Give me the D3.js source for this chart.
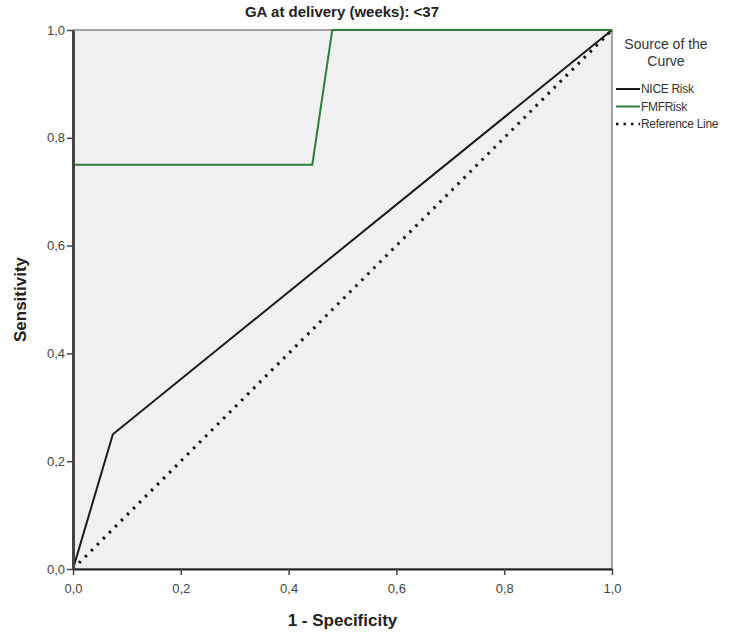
<!DOCTYPE html>
<html>
<head>
<meta charset="utf-8">
<script src="https://cdn.jsdelivr.net/npm/d3@7"></script>
<style>
  body { margin: 0; background: #fff; }
  svg { font-family: Arial, "Liberation Sans", sans-serif; }
</style>
</head>
<body>
<script>
// ROC curve data (1 - specificity, sensitivity)
const niceX = [0, 0.074, 1];
const niceY = [0, 0.25, 1];
const fmfX = [0, 0, 0.444, 0.481, 1];
const fmfY = [0, 0.75, 0.75, 1, 1];
const refX = [0, 1];
const refY = [0, 1];
const tickValues = [0, 0.2, 0.4, 0.6, 0.8, 1.0];
const legendLabels = ["NICE Risk", "FMFRisk", "Reference Line"];

const width = 750, height = 640;
const margin = { top: 30, right: 138, bottom: 71, left: 73 };

const svg = d3.select("body").append("svg")
    .attr("width", width)
    .attr("height", height);

const x = d3.scaleLinear().domain([0, 1]).range([margin.left, width - margin.right]);
const y = d3.scaleLinear().domain([0, 1]).range([height - margin.bottom, margin.top]);

// 背景
svg.append("rect")
    .attr("x", x(0)).attr("y", y(1))
    .attr("width", x(1) - x(0)).attr("height", y(0) - y(1))
    .attr("fill", "#f0f0f0")
    .attr("stroke", "#888").attr("stroke-width", 1.5);

const fmt = d => d3.format(".1f")(d).replace(".", ",");

const line = d3.line().x(d => x(d[0])).y(d => y(d[1]));

// reference line (dotted)
svg.append("path")
    .datum(d3.zip(refX, refY))
    .attr("d", line)
    .attr("fill", "none")
    .attr("stroke", "#111")
    .attr("stroke-width", 3)
    .attr("stroke-dasharray", "2.5,6");

// NICE
svg.append("path")
    .datum(d3.zip(niceX, niceY))
    .attr("d", line)
    .attr("fill", "none")
    .attr("stroke", "#1a1a1a")
    .attr("stroke-width", 2);

// FMF
svg.append("path")
    .datum(d3.zip(fmfX, fmfY))
    .attr("d", line)
    .attr("fill", "none")
    .attr("stroke", "#2e7d3a")
    .attr("stroke-width", 2);

// 軸 (線の上に描く)
svg.append("g")
    .attr("transform", `translate(0,${y(0)})`)
    .call(d3.axisBottom(x).tickValues(tickValues).tickFormat(fmt).tickSizeInner(6).tickSizeOuter(0).tickPadding(9))
    .call(g => g.select(".domain").attr("stroke", "#222").attr("stroke-width", 2))
    .call(g => g.selectAll(".tick line").attr("stroke", "#444").attr("stroke-width", 1.5))
    .call(g => g.selectAll(".tick text").attr("font-size", 13).attr("fill", "#444").attr("font-family", "Arial, sans-serif"));

svg.append("g")
    .attr("transform", `translate(${x(0)},0)`)
    .call(d3.axisLeft(y).tickValues(tickValues).tickFormat(fmt).tickSizeInner(6).tickSizeOuter(0).tickPadding(2))
    .call(g => g.select(".domain").attr("stroke", "#444").attr("stroke-width", 3))
    .call(g => g.selectAll(".tick line").attr("stroke", "#444").attr("stroke-width", 1.5))
    .call(g => g.selectAll(".tick text").attr("font-size", 13).attr("fill", "#444").attr("font-family", "Arial, sans-serif"));

// タイトル
svg.append("text")
    .attr("x", 342).attr("y", 17)
    .attr("text-anchor", "middle")
    .attr("font-size", 15).attr("font-weight", "bold").attr("fill", "#222")
    .text("GA at delivery (weeks): <37");

svg.append("text")
    .attr("x", x(0.5)).attr("y", 626)
    .attr("text-anchor", "middle")
    .attr("font-size", 17).attr("font-weight", "bold").attr("fill", "#222")
    .text("1 - Specificity");

svg.append("text")
    .attr("transform", `translate(26,${y(0.5)}) rotate(-90)`)
    .attr("text-anchor", "middle")
    .attr("font-size", 17).attr("font-weight", "bold").attr("fill", "#222")
    .text("Sensitivity");

// 凡例
svg.append("text")
    .attr("x", 666).attr("y", 49)
    .attr("text-anchor", "middle")
    .attr("font-size", 14).attr("fill", "#333")
    .text("Source of the");
svg.append("text")
    .attr("x", 666).attr("y", 66)
    .attr("text-anchor", "middle")
    .attr("font-size", 14).attr("fill", "#333")
    .text("Curve");

const legendStyles = [
    { stroke: "#1a1a1a", dash: null },
    { stroke: "#2e7d3a", dash: null },
    { stroke: "#111", dash: "2.5,5" }
];
const legend = svg.append("g")
    .selectAll("g")
    .data(legendLabels)
    .join("g")
    .attr("transform", (d, i) => `translate(616,${89 + i * 17.5})`);

legend.append("line")
    .attr("x1", 0).attr("x2", 24)
    .attr("stroke", (d, i) => legendStyles[i].stroke)
    .attr("stroke-width", (d, i) => i === 2 ? 2.5 : 2)
    .attr("stroke-dasharray", (d, i) => legendStyles[i].dash);

legend.append("text")
    .attr("x", 25).attr("dy", "0.35em")
    .attr("font-size", 12).attr("fill", "#333")
    .attr("letter-spacing", -0.3)
    .text(d => d);
</script>
</body>
</html>
